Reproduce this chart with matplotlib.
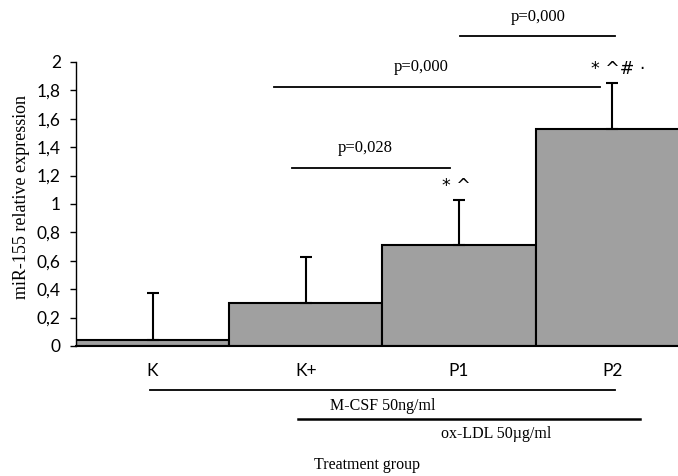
import matplotlib
matplotlib.use("Agg")
import matplotlib.pyplot as plt
from matplotlib.ticker import FuncFormatter

groups = ["K", "K+", "P1", "P2"]
expression = [0.04, 0.30, 0.71, 1.53]
error_up = [0.33, 0.33, 0.32, 0.32]

# significance brackets: (x start, x end, y, label)
brackets = [(0.91, 1.94, 1.254, "p=0,028"),
            (0.79, 2.92, 1.824, "p=0,000"),
            (2.01, 3.02, 2.18, "p=0,000")]
bracket_text_x = [1.39, 1.75, 2.52]
marks = ["", "", "* ^", "* ^# \u00b7"]
mark_dx = [0, 0, -0.02, 0.04]

SERIF = "Liberation Serif"
SANS = "Lato"

fig = plt.figure(figsize=(6.78, 4.76), dpi=100)
ax = fig.add_axes([76 / 678, 130 / 476, 602 / 678, 284 / 476])

x = range(len(groups))
ax.bar(x, expression, width=1.0, color="#a0a0a0", edgecolor="black", linewidth=1.5, zorder=2)
ax.errorbar(x, expression, yerr=[[0] * 4, error_up], fmt="none", ecolor="black",
            elinewidth=1.5, capsize=4, capthick=1.5, zorder=3)

ax.set_xlim(-0.5, 3.43)
ax.set_ylim(0, 2)
ax.set_yticks([i / 5 for i in range(11)])
ax.yaxis.set_major_formatter(FuncFormatter(lambda v, p: ("%g" % round(v, 1)).replace(".", ",")))
ax.set_xticks(list(x))
ax.set_xticklabels(groups, fontfamily=SANS, fontsize=12.5)
ax.tick_params(axis="x", length=0, pad=12)
ax.tick_params(axis="y", length=4, width=1, labelsize=12.5, pad=7)
for lab in ax.get_yticklabels():
    lab.set_fontfamily(SANS)
ax.spines["top"].set_visible(False)
ax.spines["right"].set_visible(False)
ax.spines["left"].set_linewidth(1)
ax.spines["bottom"].set_linewidth(1.5)
ax.set_ylabel("miR-155 relative expression", fontfamily=SERIF, fontsize=13)
ax.yaxis.set_label_coords(-0.076, 0.525)

for (x0, x1, y, label), tx in zip(brackets, bracket_text_x):
    ax.plot([x0, x1], [y, y], color="black", lw=1.3, clip_on=False)
    ax.text(tx, y + 0.14, label, ha="center", va="center", fontfamily=SERIF, fontsize=12, clip_on=False)

for i, m in enumerate(marks):
    if m:
        ax.text(i + mark_dx[i], expression[i] + error_up[i] + 0.1, m, ha="center", va="center",
                fontsize=12.5, fontfamily="DejaVu Sans")

# treatment bars under the axis
ax.plot([-0.02, 3.02], [-0.31, -0.31], color="black", lw=1.3, clip_on=False)
ax.plot([0.95, 3.18], [-0.515, -0.515], color="black", lw=1.8, clip_on=False)
ax.text(1.50, -0.42, "M-CSF 50ng/ml", ha="center", va="center", fontfamily=SERIF, fontsize=11.5)
ax.text(2.24, -0.62, "ox-LDL 50\u00b5g/ml", ha="center", va="center", fontfamily=SERIF, fontsize=11.5)
ax.text(1.40, -0.835, "Treatment group", ha="center", va="center", fontfamily=SERIF, fontsize=11.5)

fig.savefig("out.png", dpi=100)
